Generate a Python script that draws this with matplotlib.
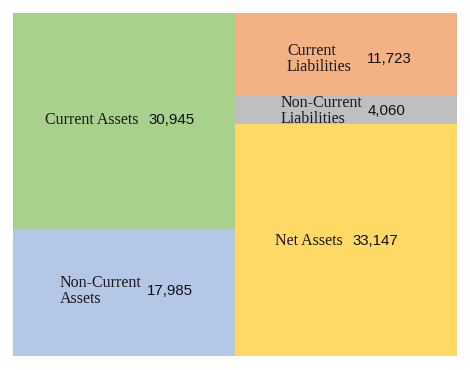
import matplotlib
matplotlib.use('Agg')
import matplotlib.pyplot as plt

# Balance sheet (left column = assets, right column = liabilities + net assets)
ASSET_NAMES = ['Non-Current\nAssets', 'Current Assets']
ASSET_VALUES = [17985, 30945]
CLAIM_NAMES = ['Net Assets', 'Non-Current\nLiabilities', 'Current\nLiabilities']
CLAIM_VALUES = [33147, 4060, 11723]

ASSET_COLORS = ['#B4C7E7', '#A9D18E']
CLAIM_COLORS = ['#FFD966', '#BFBFBF', '#F4B183']

# label anchors in figure pixels: (name left x, number left x, centre y)
ASSET_LABEL_POS = [(60, 147, 291), (45, 148, 120)]
CLAIM_LABEL_POS = [(275, 352, 241), (281, 368, 111), (287, 367, 59)]

W, H = 470, 370
fig = plt.figure(figsize=(W / 100, H / 100), dpi=100)
ax = fig.add_axes([13 / W, 1 - 356 / H, 444 / W, 343 / H])

total = sum(ASSET_VALUES)
for col, (vals, colors) in enumerate([(ASSET_VALUES, ASSET_COLORS),
                                      (CLAIM_VALUES, CLAIM_COLORS)]):
    bottom = 0
    for v, c in zip(vals, colors):
        ax.bar(col, v, width=1.0, bottom=bottom, color=c, edgecolor='none')
        bottom += v

ax.set_xlim(-0.5, 1.5)
ax.set_ylim(0, total)
ax.axis('off')

serif = ['Liberation Serif', 'DejaVu Serif']
sans = ['Liberation Sans', 'DejaVu Sans']

for names, vals, pos in [(ASSET_NAMES, ASSET_VALUES, ASSET_LABEL_POS),
                         (CLAIM_NAMES, CLAIM_VALUES, CLAIM_LABEL_POS)]:
    for name, v, (nx, vx, y) in zip(names, vals, pos):
        fig.text(nx / W, 1 - y / H, name, family=serif, fontsize=11.5,
                 ha='left', va='center', linespacing=1.0, color='#1a1a1a')
        fig.text(vx / W, 1 - y / H, f'{v:,}', family=sans, fontsize=10.8,
                 ha='left', va='center', color='#111111')

fig.savefig('out.png', dpi=100, facecolor='white')
